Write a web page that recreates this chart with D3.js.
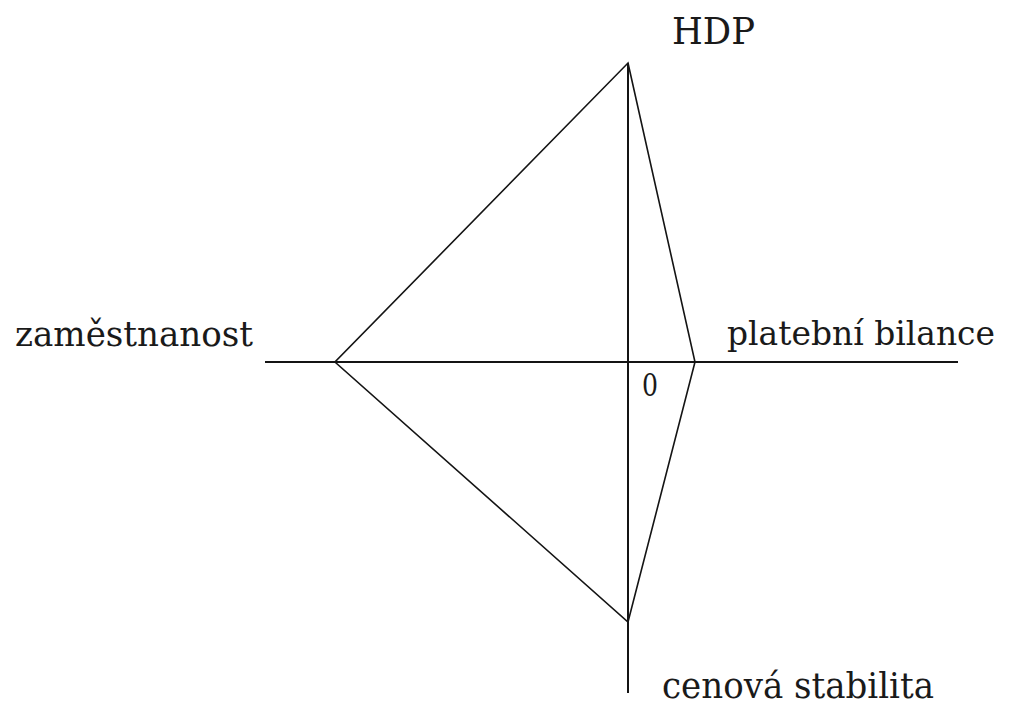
<!DOCTYPE html>
<html><head><meta charset="utf-8">
<script src="https://cdn.jsdelivr.net/npm/d3@7"></script>
<style>html,body{margin:0;padding:0;background:#fff;}</style>
</head><body>
<svg id="c" width="1015" height="707"></svg>
<script>
// Axis names (top, right, bottom, left)
const axisNames = ["HDP", "platební bilance", "cenová stabilita", "zaměstnanost"];
// Achieved values on each axis (arbitrary units)
const axisValues = [90.6, 20.3, 78.8, 88.8];
// Axis extents: up, right, down, left
const axisExtent = [90.6, 100, 100.3, 110];
const originLabel = "0";

const svg = d3.select("#c");
const x = d3.scaleLinear().domain([-axisExtent[3], axisExtent[1]]).range([265, 958]);
const y = d3.scaleLinear().domain([axisExtent[0], -axisExtent[2]]).range([63, 693]);

const ink = "#141414";
// axes
svg.append("line").attr("x1", x(-axisExtent[3])).attr("x2", x(axisExtent[1]))
  .attr("y1", y(0)).attr("y2", y(0)).attr("stroke", ink).attr("stroke-width", 2);
svg.append("line").attr("x1", x(0)).attr("x2", x(0))
  .attr("y1", y(axisExtent[0])).attr("y2", y(-axisExtent[2])).attr("stroke", ink).attr("stroke-width", 2);

// quadrangle
const pts = [
  [x(0), y(axisValues[0])],
  [x(axisValues[1]), y(0)],
  [x(0), y(-axisValues[2])],
  [x(-axisValues[3]), y(0)]
];
svg.append("path").attr("d", d3.line()(pts) + "Z")
  .attr("fill", "none").attr("stroke", ink).attr("stroke-width", 1.6).attr("stroke-linejoin", "miter");

const font = "'DejaVu Serif', 'Liberation Serif', serif";
const labels = [
  {t: axisNames[0], x: 672, y: 44, w: 83, s: 37},
  {t: axisNames[1], x: 727, y: 345, w: 268, s: 33},
  {t: axisNames[2], x: 662, y: 698, w: 272, s: 35},
  {t: axisNames[3], x: 15, y: 346, w: 238, s: 36},
  {t: originLabel, x: 642, y: 396, w: 16, s: 31}
];
svg.selectAll("text.lbl").data(labels).enter().append("text")
  .attr("class", "lbl")
  .attr("x", d => d.x).attr("y", d => d.y)
  .attr("textLength", d => d.w).attr("lengthAdjust", "spacingAndGlyphs")
  .attr("font-family", font).attr("font-size", d => d.s).attr("fill", "#1a1a1a")
  .text(d => d.t);
</script>
</body></html>
